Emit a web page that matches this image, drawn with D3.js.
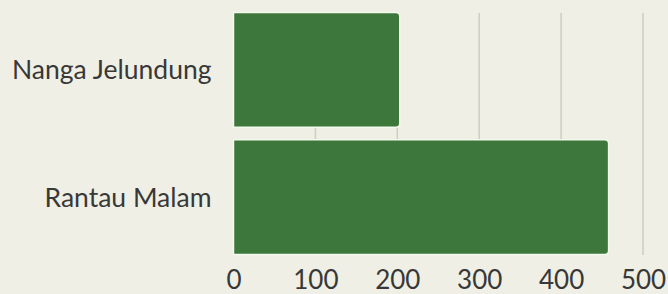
<!DOCTYPE html>
<html>
<head>
<meta charset="utf-8">
<script src="https://cdn.jsdelivr.net/npm/d3@7"></script>
<style>
  html, body { margin: 0; padding: 0; background: #efefe5; }
  svg { display: block; }
</style>
</head>
<body>
<svg id="chart" width="668" height="294"></svg>
<script>
const categories = ["Nanga Jelundung", "Rantau Malam"];
const values = [203, 458];
const tickValues = [0, 100, 200, 300, 400, 500];

const W = 668, H = 294;
const svg = d3.select("#chart");
svg.append("rect").attr("width", W).attr("height", H).attr("fill", "#efefe5");

const x = d3.scaleLinear().domain([0, 500]).range([233.5, 643]);
const y = d3.scaleBand().domain(categories).range([12.5, 254.5]).paddingInner(0.1).paddingOuter(0);

// gridlines
svg.append("g").selectAll("line").data(tickValues.filter(d => d > 0)).join("line")
  .attr("x1", d => x(d)).attr("x2", d => x(d))
  .attr("y1", 13).attr("y2", 255)
  .attr("stroke", "#cfd0c3").attr("stroke-width", 1.6);

// bars with rounded right corners
const r = 4;
function barPath(x0, x1, y0, h) {
  return `M${x0},${y0}H${x1 - r}Q${x1},${y0} ${x1},${y0 + r}V${y0 + h - r}Q${x1},${y0 + h} ${x1 - r},${y0 + h}H${x0}Z`;
}
svg.append("g").selectAll("path").data(categories).join("path")
  .attr("d", (c, i) => barPath(x(0), x(values[i]), y(c), y.bandwidth()))
  .attr("fill", "#3d773c")
  .attr("stroke", "#f3f9ec").attr("stroke-width", 1.5);

// y axis labels
const yAxis = d3.axisLeft(y).tickSize(0).tickPadding(22);
const gy = svg.append("g").attr("transform", `translate(${x(0)},0)`).call(yAxis);
gy.select(".domain").remove();
gy.selectAll("text").attr("font-family", "Lato, sans-serif").attr("font-size", 26.5)
  .attr("fill", "#383838").attr("dy", "0.36em");

// x axis labels
const xAxis = d3.axisBottom(x).tickValues(tickValues).tickSize(0).tickPadding(16).tickFormat(d3.format("d"));
const gx = svg.append("g").attr("transform", `translate(0,${255})`).call(xAxis);
gx.select(".domain").remove();
gx.selectAll("text").attr("font-family", "Lato, sans-serif").attr("font-size", 26)
  .attr("fill", "#383838");
</script>
</body>
</html>
